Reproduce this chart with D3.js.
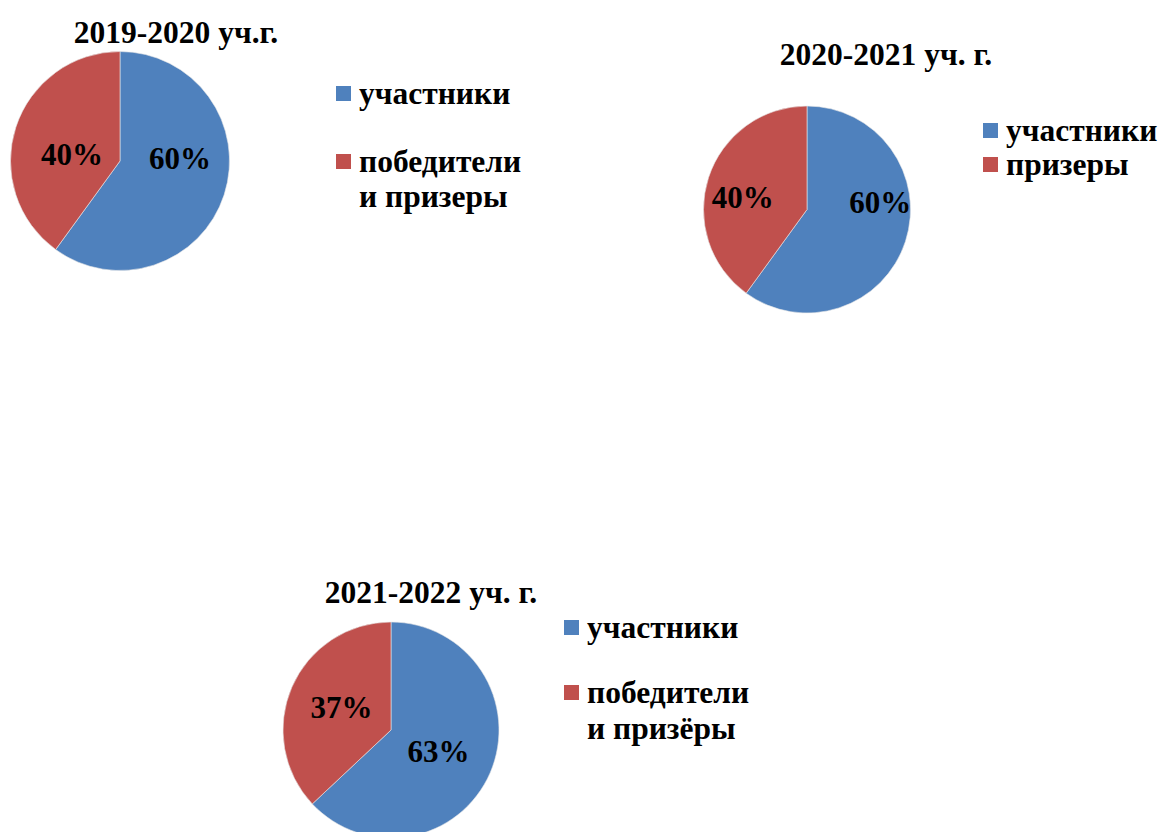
<!DOCTYPE html>
<html>
<head>
<meta charset="utf-8">
<script src="https://cdn.jsdelivr.net/npm/d3@7"></script>
<style>
  body { margin: 0; background: #fff; }
  svg text { font-family: "Liberation Serif", "Times New Roman", serif; font-weight: bold; fill: #000; }
</style>
</head>
<body>
<div class="charts"></div>
<script>
// data
const titles = ["2019-2020 уч.г.", "2020-2021 уч. г.", "2021-2022 уч. г."]
const categories = ["участники", "победители и призеры"]
const legendNames = [
    ["участники", "победители\nи призеры"],
    ["участники", "призеры"],
    ["участники", "победители\nи призёры"]
]
const values2020 = [60, 40]
const values2021 = [60, 40]
const values2022 = [63, 37]
const seriesValues = [values2020, values2021, values2022]
const colors = ["#4F81BD", "#C0504D"]

// layout of each pie block
const layout = [
    { cx: 120, cy: 161, r: 109.5, titleX: 176, titleY: 43, legX: 336, legY: [86, 154], lineH: 35,
      nudge: [[8, -20], [4, 10]] },
    { cx: 807, cy: 209.5, r: 103.5, titleX: 886, titleY: 65, legX: 983, legY: [123, 157], lineH: 35,
      nudge: [[24, -23], [-15, 4]] },
    { cx: 391, cy: 730, r: 108, titleX: 431, titleY: 603, legX: 564, legY: [620, 685], lineH: 36,
      nudge: [[-2, 0], [0, -1]] }
]

const width = 1163
const height = 832

const svg = d3.select(".charts")
    .append("svg")
    .attr("width", width)
    .attr("height", height)
    .attr("viewBox", [0, 0, width, height])

const pie = d3.pie().sort(null).value(d => d)

const color = d3.scaleOrdinal()
    .domain(categories)
    .range(colors)

seriesValues.forEach(function(vals, i) {
    const L = layout[i]
    const g = svg.append("g")

    const arc = d3.arc().innerRadius(0).outerRadius(L.r)
    const labelArc = d3.arc().innerRadius(L.r * 0.5).outerRadius(L.r * 0.5)
    const arcs = pie(vals)

    g.append("g")
        .attr("transform", `translate(${L.cx},${L.cy})`)
        .selectAll("path")
        .data(arcs)
        .join("path")
        .attr("d", arc)
        .attr("fill", (d, j) => color(categories[j]))
        .attr("stroke", "#e8e8e8")
        .attr("stroke-width", 0.6)

    g.append("g")
        .attr("transform", `translate(${L.cx},${L.cy})`)
        .selectAll("text")
        .data(arcs)
        .join("text")
        .attr("text-anchor", "middle")
        .attr("dy", "0.35em")
        .attr("x", (d, j) => labelArc.centroid(d)[0] + L.nudge[j][0])
        .attr("y", (d, j) => labelArc.centroid(d)[1] + L.nudge[j][1])
        .style("font-size", "31px")
        .text(d => d.data + "%")

    g.append("text")
        .attr("x", L.titleX)
        .attr("y", L.titleY)
        .attr("text-anchor", "middle")
        .style("font-size", "31.5px")
        .text(titles[i])

    // legend
    legendNames[i].forEach(function(name, j) {
        const y0 = L.legY[j]
        g.append("rect")
            .attr("x", L.legX)
            .attr("y", y0)
            .attr("width", 15)
            .attr("height", 15)
            .attr("fill", colors[j])

        const t = g.append("text")
            .attr("x", L.legX + 23)
            .attr("y", y0 + 18)
            .style("font-size", "31.5px")
        name.split("\n").forEach(function(line, k) {
            t.append("tspan")
                .attr("x", L.legX + 23)
                .attr("dy", k == 0 ? 0 : L.lineH)
                .text(line)
        })
    })
})
</script>
</body>
</html>
